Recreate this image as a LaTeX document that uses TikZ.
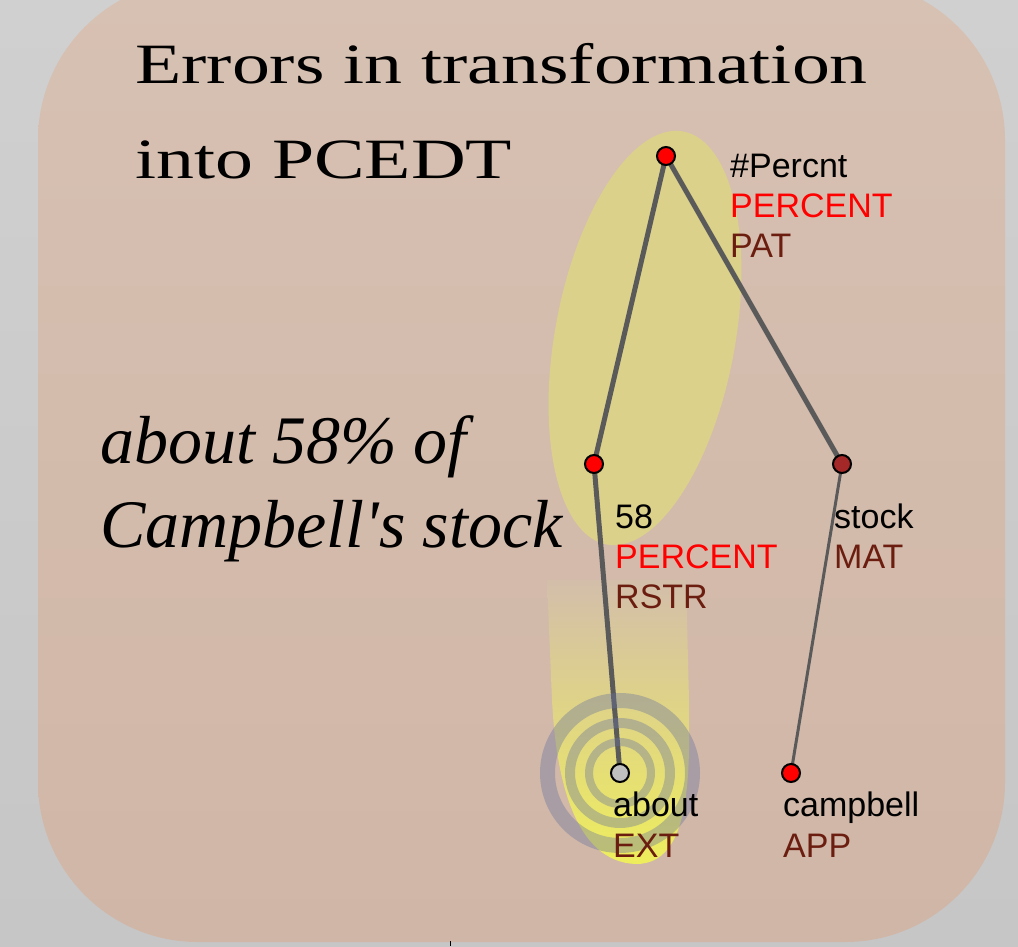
\documentclass[tikz,border=0pt]{standalone}
\usepackage{fontspec}
\setmainfont{Liberation Serif}
\newfontfamily\lab{Liberation Sans}
\newfontfamily\titlefont[FakeStretch=1.33]{Liberation Serif}
\definecolor{bgtop}{RGB}{208,208,208}
\definecolor{bgbot}{RGB}{198,198,198}
\definecolor{boxtop}{RGB}{215,193,178}
\definecolor{boxbot}{RGB}{208,182,167}
\definecolor{ell}{RGB}{219,209,138}
\definecolor{blobtop}{RGB}{211,190,170}
\definecolor{blobmid}{RGB}{222,211,135}
\definecolor{blobbot}{RGB}{238,238,92}
\definecolor{ringc}{RGB}{105,115,160}
\definecolor{edgec}{RGB}{90,90,90}
\definecolor{fnc}{RGB}{107,30,15}
\definecolor{darkred}{RGB}{165,40,40}
\definecolor{lgray}{RGB}{192,192,192}
\tikzset{
  tnode/.style={circle,draw=black,line width=2pt,minimum size=18pt,inner sep=0pt},
  edge/.style={draw=edgec,line width=5pt},
  thinedge/.style={draw=edgec,line width=3pt},
  lbl/.style={anchor=base west,inner sep=0pt,font=\lab\fontsize{34}{34}\selectfont},
  ring/.style={fill=ringc,fill opacity=0.38,even odd rule},
  ttl/.style={anchor=base west,inner sep=0pt,font=\titlefont\fontsize{57}{57}\selectfont},
  itl/.style={anchor=base west,inner sep=0pt,font=\itshape\fontsize{68}{68}\selectfont},
}
\begin{document}
\begin{tikzpicture}[x=1pt,y=-1pt]
\useasboundingbox (0,0) rectangle (1018,946);
\clip (0,0) rectangle (1018,946);
\shade[top color=bgtop,bottom color=bgbot] (0,0) rectangle (1018,946);
\shade[top color=boxtop,bottom color=boxbot,rounded corners=160pt] (38,-20) rectangle (1005,942);
% highlight shapes
\fill[ell,rotate around={-10.5:(645,338)}] (645,338) ellipse [x radius=90,y radius=210];
\shade[top color=blobtop,middle color=blobmid,bottom color=blobbot]
  (547,580) -- (552,700) .. controls (556,780) and (575,862) .. (636,864)
  .. controls (690,864) and (690,780) .. (689,700) -- (686,580) -- cycle;
% nodes
\coordinate (pc) at (666,156);
\coordinate (c58) at (594,464);
\coordinate (cst) at (842,464);
\coordinate (cab) at (620,773);
\coordinate (ccb) at (791,773);
\draw[edge] (pc) -- (c58);
\draw[edge] (pc) -- (cst);
\draw[edge] (c58) -- (cab);
\draw[thinedge] (cst) -- (ccb);
% rings
\fill[ring] (cab) circle (80) circle (65);
\fill[ring] (cab) circle (55) circle (45);
\fill[ring] (cab) circle (35) circle (27);
\node[tnode,fill=red] (npc) at (pc) {};
\node[tnode,fill=red] (n58) at (c58) {};
\node[tnode,fill=darkred] (nst) at (cst) {};
\node[tnode,fill=lgray] (nab) at (cab) {};
\node[tnode,fill=red] (ncb) at (ccb) {};
% labels
\node[lbl] (pc1) at (730,177) {\#Percnt};
\node[lbl,text=red] (pc2) at (730,217) {PERCENT};
\node[lbl,text=fnc] (pc3) at (730,257) {PAT};
\node[lbl] (l581) at (615,528) {58};
\node[lbl,text=red] (l582) at (615,568) {PERCENT};
\node[lbl,text=fnc] (l583) at (615,608) {RSTR};
\node[lbl] (st1) at (834,528) {stock};
\node[lbl,text=fnc] (st2) at (834,568) {MAT};
\node[lbl] (ab1) at (613,816) {about};
\node[lbl,text=fnc] (ab2) at (613,857) {EXT};
\node[lbl] (cb1) at (783,816) {campbell};
\node[lbl,text=fnc] (cb2) at (783,857) {APP};
% texts
\node[ttl] (t1) at (135,83) {Errors in transformation};
\node[ttl] (t2) at (135,178) {into PCEDT};
\node[itl] (i1) at (100,463) {about 58\% of};
\node[itl] (i2) at (100,547) {Campbell\textquotesingle s stock};
\coordinate (tk1) at (450,941);
\coordinate (tk2) at (450,946);
\draw[black,line width=1pt] (tk1) -- (tk2);
\end{tikzpicture}
\end{document}
